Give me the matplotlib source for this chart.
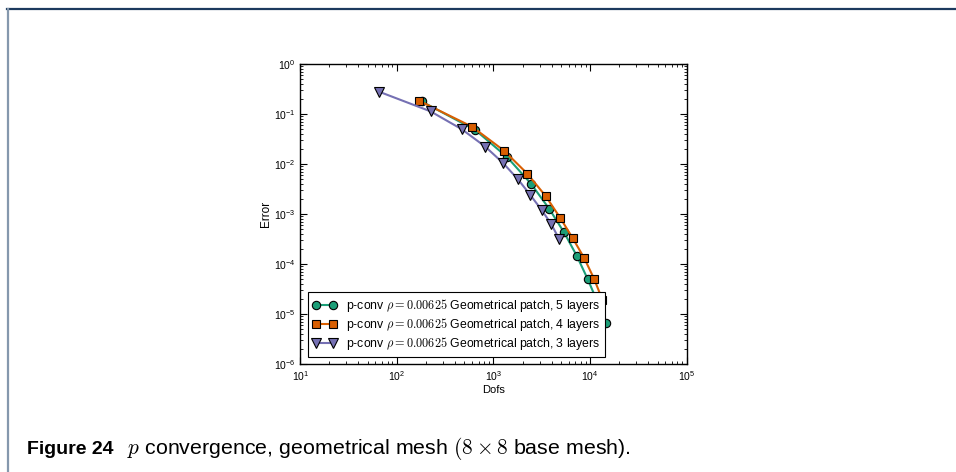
import numpy as np
import matplotlib
matplotlib.use("Agg")
import matplotlib.pyplot as plt
from matplotlib.ticker import LogLocator, NullFormatter

plt.rcParams['font.family'] = ['Liberation Sans', 'DejaVu Sans']
plt.rcParams['mathtext.fontset'] = 'custom'
plt.rcParams['mathtext.rm'] = 'Liberation Sans'
plt.rcParams['mathtext.it'] = 'Liberation Sans:italic'
plt.rcParams['mathtext.bf'] = 'Liberation Sans:bold'

# data
dofs_5 = [180, 648, 1390, 2444, 3785, 5370, 7266, 9440, 14730]
err_5 = [0.179, 0.0479, 0.0136, 0.00404, 0.00126, 0.00043, 0.000147, 5.0e-5, 6.7e-6]

dofs_4 = [169, 599, 1285, 2240, 3467, 4920, 6600, 8717, 10980, 13390]
err_4 = [0.185, 0.0558, 0.0185, 0.0064, 0.00229, 0.00083, 0.00033, 0.00013, 5.09e-5, 1.94e-5]

dofs_3 = [65.2, 223, 472, 823, 1254, 1793, 2405, 3154, 3940, 4805]
err_3 = [0.28, 0.113, 0.0493, 0.0222, 0.0105, 0.00494, 0.0024, 0.0012, 0.00064, 0.000311]

labels = [r'p-conv $\rho=0.00625$ Geometrical patch, 5 layers',
          r'p-conv $\rho=0.00625$ Geometrical patch, 4 layers',
          r'p-conv $\rho=0.00625$ Geometrical patch, 3 layers']

fig = plt.figure(figsize=(9.56, 4.72), dpi=100)

# page frame lines (top and left)
fig.add_artist(plt.Line2D([7/956, 1], [1 - 9/472, 1 - 9/472], color='#1c3a5e', lw=1.6))
fig.add_artist(plt.Line2D([7.5/956, 7.5/956], [0, 1 - 9/472], color='#8598ad', lw=1.6))

ax = fig.add_axes([0.3141, 0.2288, 0.4042, 0.6356])

ax.plot(dofs_5, err_5, '-o', color='#1b9e77', lw=1.5, ms=6, mec='black', mew=0.8, label=labels[0])
ax.plot(dofs_4, err_4, '-s', color='#d95f02', lw=1.5, ms=6, mec='black', mew=0.8, label=labels[1])
ax.plot(dofs_3, err_3, '-v', color='#7570b3', lw=1.5, ms=6.5, mec='black', mew=0.8, label=labels[2])

ax.set_xscale('log')
ax.set_yscale('log')
ax.set_xlim(1e1, 1e5)
ax.set_ylim(1e-6, 1e0)

ax.xaxis.set_minor_locator(LogLocator(base=10, subs=np.arange(2, 10)))
ax.yaxis.set_minor_locator(LogLocator(base=10, subs=np.arange(2, 10)))
ax.xaxis.set_minor_formatter(NullFormatter())
ax.yaxis.set_minor_formatter(NullFormatter())
ax.tick_params(which='both', direction='in', top=True, right=True, labelsize=7.5)
ax.tick_params(which='major', length=5, width=0.8)
ax.tick_params(which='minor', length=2.5, width=0.6)
for s in ax.spines.values():
    s.set_linewidth(1.0)

ax.set_xlabel('Dofs', fontsize=8, labelpad=2)
ax.set_ylabel('Error', fontsize=8.5, labelpad=1)

leg = ax.legend(loc='lower left', fontsize=8.8, numpoints=2, fancybox=False,
                edgecolor='black', framealpha=1, handlelength=2.0,
                borderaxespad=0.6, labelspacing=0.15, handletextpad=0.7)
leg.get_frame().set_linewidth(0.8)
for t in leg.get_texts():
    t.set_math_fontfamily('cm')

fig.text(27/956, 1 - 454/472, 'Figure 24', fontsize=14, fontweight='bold', va='baseline')
fig.text(127/956, 1 - 454/472, r'$p$ convergence, geometrical mesh $(8 \times 8$ base mesh).',
         fontsize=15.4, va='baseline', math_fontfamily='cm')

fig.savefig('out.png', dpi=100)
